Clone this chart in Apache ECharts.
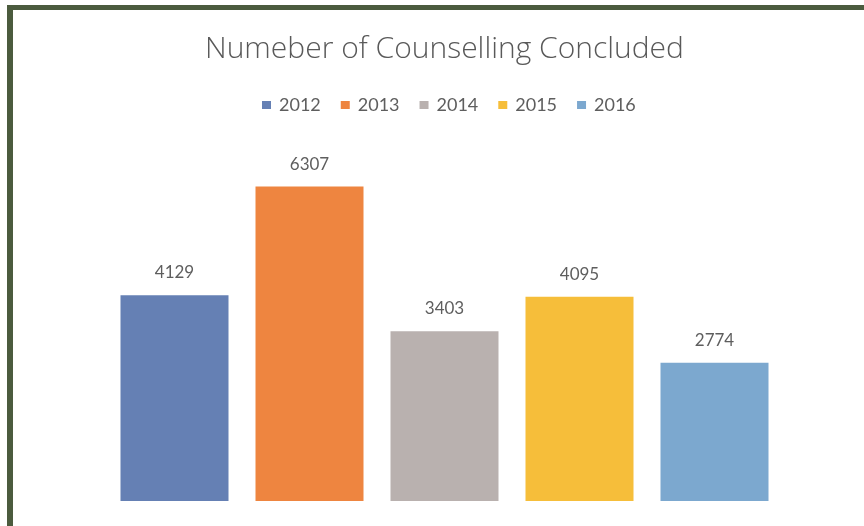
<!DOCTYPE html>
<html>
<head>
<meta charset="utf-8">
<script src="https://cdn.jsdelivr.net/npm/echarts@6/dist/echarts.min.js"></script>
<style>
html,body{margin:0;padding:0;background:#ffffff;}
#chart{width:864px;height:526px;}
</style>
</head>
<body>
<div id="chart"></div>
<script>
const titleText = "Numeber of Counselling Concluded";
const years = ["2012", "2013", "2014", "2015", "2016"];
const counts = [4129, 6307, 3403, 4095, 2774];
const colors = ["#6580B4", "#EE8540", "#B9B1AF", "#F6BE3A", "#7CA8CF"];

const chart = echarts.init(document.getElementById('chart'), null, {renderer: 'canvas'});

const series = years.map(function (y, i) {
  return {
    name: y,
    type: 'bar',
    stack: 'all',
    barWidth: 108,
    data: years.map(function (_, j) { return j === i ? counts[i] : null; }),
    itemStyle: {color: colors[i]},
    label: {
      show: true,
      position: 'top',
      distance: 14,
      color: '#5E5E5E',
      fontSize: 17,
      fontFamily: 'Lato, "Open Sans", sans-serif'
    }
  };
});

chart.setOption({
  backgroundColor: '#ffffff',
  animation: false,
  title: {
    text: titleText,
    left: 200,
    top: 29,
    textStyle: {
      color: '#595959',
      fontSize: 30,
      fontWeight: 300,
      fontFamily: '"Open Sans", Lato, sans-serif'
    }
  },
  legend: {
    top: 91,
    left: 257,
    itemWidth: 9,
    itemHeight: 8,
    itemGap: 20,
    icon: 'rect',
    textStyle: {
      color: '#5E5E5E',
      fontSize: 18,
      padding: [0, 0, 0, 3],
      fontFamily: 'Lato, "Open Sans", sans-serif'
    },
    data: years
  },
  grid: {left: 107, right: 82, top: 152, bottom: 25},
  xAxis: {
    type: 'category',
    data: years,
    show: false
  },
  yAxis: {
    type: 'value',
    min: 0,
    max: 7000,
    show: false
  },
  graphic: [
    {type: 'rect', shape: {x: 7, y: 5, width: 857, height: 5}, style: {fill: '#4B5B3E'}, z: 100},
    {type: 'rect', shape: {x: 7, y: 5, width: 6, height: 521}, style: {fill: '#4B5B3E'}, z: 100}
  ],
  series: series
});
</script>
</body>
</html>
